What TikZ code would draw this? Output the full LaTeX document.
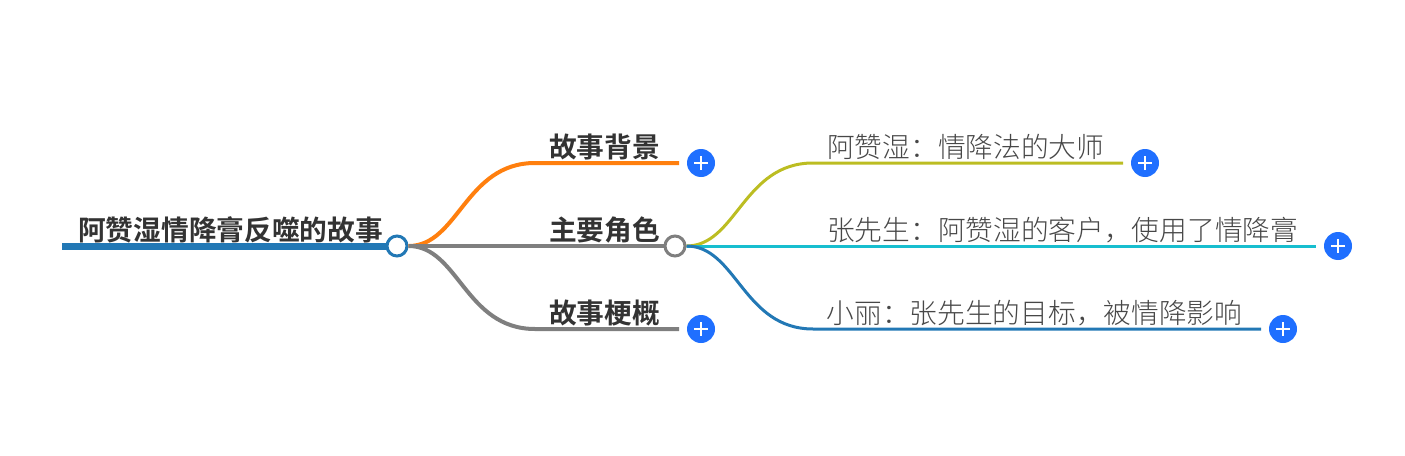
\documentclass[tikz,border=0pt]{standalone}
\usepackage{fontspec}
\usetikzlibrary{calc}
\newfontfamily\cjkbold{Noto Sans CJK SC Bold}
\newfontfamily\cjklight{Noto Sans CJK SC Light}
\definecolor{rootblue}{HTML}{2278B5}
\definecolor{orangeb}{HTML}{FF7F0E}
\definecolor{grayb}{HTML}{7F7F7F}
\definecolor{olive}{HTML}{BCBD22}
\definecolor{cyanb}{HTML}{17BECF}
\definecolor{plusblue}{HTML}{1F6FFF}
\tikzset{
 x=1pt,y=-1pt,
 branch/.style={line width=#1,line cap=butt},
 maintext/.style={font=\cjkbold\fontsize{27.7pt}{30pt}\selectfont,text=black!80,anchor=base west,inner sep=0pt},
 leaftext/.style={font=\cjklight\fontsize{27.7pt}{30pt}\selectfont,text=black!72,anchor=base west,inner sep=0pt},
 junction/.style={circle,draw=#1,fill=white,line width=3pt,minimum size=20pt,inner sep=0pt},
 plusdot/.style={circle,fill=plusblue,minimum size=28pt,inner sep=0pt},
}
\begin{document}
\begin{tikzpicture}
\useasboundingbox (0,0) rectangle (1405,455);
\coordinate (rs) at (62,246);
\node[junction=rootblue] (rj) at (397,246) {};
\node[junction=grayb] (mj) at (675,246) {};
\coordinate (a1) at (535,163); \coordinate (a1e) at (679,163);
\coordinate (a3) at (535,329); \coordinate (a3e) at (679,329);
\coordinate (b1) at (813,163); \coordinate (b1e) at (1123,163);
\coordinate (b2) at (813,246); \coordinate (b2e) at (1316,246);
\coordinate (b3) at (813,329); \coordinate (b3e) at (1261,329);
\draw[branch=7pt,rootblue] (rs) -- (rj);
\draw[branch=4pt,orangeb] (rj.east) .. controls +(50,0) and ($(a1)+(-70,0)$) .. (a1) -- (a1e);
\draw[branch=4pt,grayb] (rj.east) .. controls +(50,0) and ($(a3)+(-70,0)$) .. (a3) -- (a3e);
\draw[branch=4pt,grayb] (rj.east) -- (mj.west);
\draw[branch=3pt,olive] (mj.east) .. controls +(50,0) and ($(b1)+(-70,0)$) .. (b1) -- (b1e);
\draw[branch=3pt,cyanb] (mj.east) -- (b2e);
\draw[branch=3pt,rootblue] (mj.east) .. controls +(50,0) and ($(b3)+(-70,0)$) .. (b3) -- (b3e);
\node[maintext] (t0) at (78,240) {阿赞湿情降膏反噬的故事};
\node[maintext] (t1) at (549,157) {故事背景};
\node[maintext] (t2) at (549,240) {主要角色};
\node[maintext] (t3) at (549,323) {故事梗概};
\node[leaftext] (l1) at (827,157) {阿赞湿：情降法的大师};
\node[leaftext] (l2) at (827,240) {张先生：阿赞湿的客户，使用了情降膏};
\node[leaftext] (l3) at (826.5,323) {小丽：张先生的目标，被情降影响};
\foreach \n/\x/\y in {p1/701/163,p3/701/329,p4/1145/163,p5/1338/246,p6/1283/329}{
 \node[plusdot] (\n) at (\x,\y) {};
 \draw[white,line width=2.2pt] ($(\n)+(-7,0)$) -- ($(\n)+(7,0)$);
 \draw[white,line width=2.2pt] ($(\n)+(0,-7)$) -- ($(\n)+(0,7)$);
}
\end{tikzpicture}
\end{document}
